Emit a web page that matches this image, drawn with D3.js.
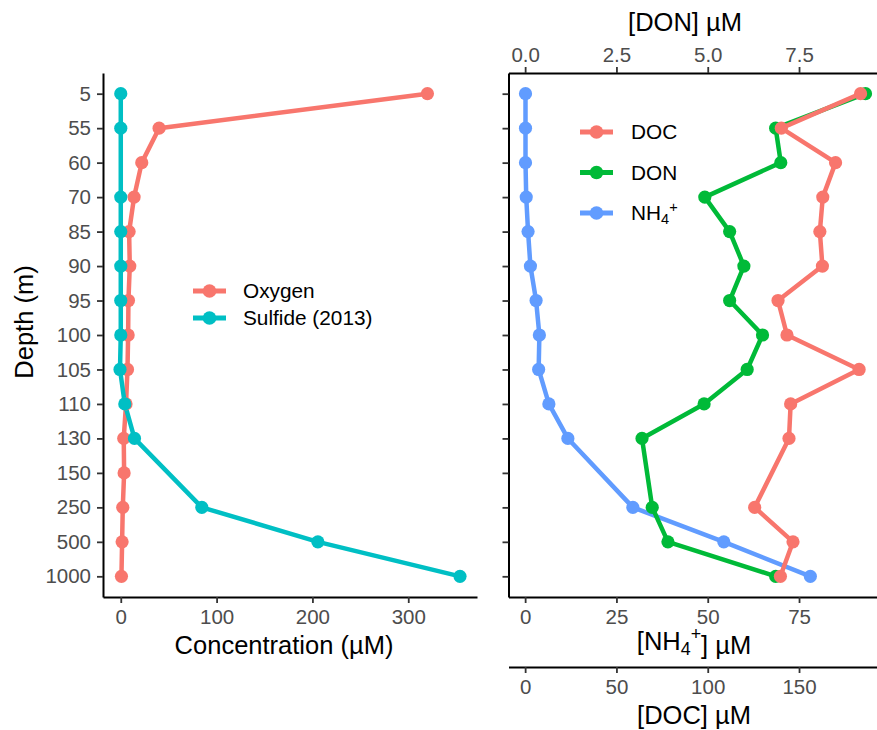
<!DOCTYPE html>
<html><head><meta charset="utf-8">
<script src="https://cdn.jsdelivr.net/npm/d3@7"></script>
<style>
body{margin:0;background:#fff}
svg{display:block}
text{font-family:"Liberation Sans",Arial,Helvetica,sans-serif}
</style>
</head><body>
<svg id="c" width="877" height="730"></svg>
<script>
// ---- data ----
const depths  = ["5","55","60","70","85","90","95","100","105","110","130","150","250","500","1000"];
const oxygen  = [320, 40.0, 21.9, 13.9, 8.7, 9.4, 8.0, 7.7, 7.0, 5.5, 3.1, 3.5, 2.1, 1.4, 0.7];
const sulfide = [0, 0, null, 0, 0, 0, 0, 0, -0.8, 4.2, 14.3, null, 84.6, 205.7, 354];
const nh4     = [0.1, 0.1, 0.1, 0.3, 0.8, 1.45, 3.0, 3.9, 3.7, 6.5, 11.7, null, 29.5, 54.4, 78.1];
const don     = [9.32, 6.86, 7.0, 4.92, 5.6, 5.99, 5.6, 6.5, 6.08, 4.9, 3.2, null, 3.48, 3.91, 6.86];
const docv    = [183.7, 140.3, 170, 163, 161.4, 162.8, 138.5, 143.4, 182.9, 145.4, 144.5, null, 125.7, 146.7, 139.8];
const concTicks = [0, 100, 200, 300];
const nh4Ticks  = [0, 25, 50, 75];
const donTicks  = [0, 2.5, 5, 7.5];
const docTicks  = [0, 50, 100, 150];
const leftSeries  = ["Oxygen", "Sulfide (2013)"];
const rightSeries = ["DOC", "DON", "NH4+"];

const svg = d3.select("#c");
const C = {red:"#F8766D", cyan:"#00BFC4", green:"#00BA38", blue:"#619CFF"};
const TICK_COL = "#4D4D4D", TICKLINE = "#333333";

function expand(ext){ const s = ext[1]-ext[0]; return [ext[0]-0.05*s, ext[1]+0.05*s]; }

const y = d3.scalePoint().domain(depths).range([73, 597]).padding(0.6);

// ---- left panel ----
const L = {x0:103, x1:477};
const leftVals = oxygen.concat(sulfide).filter(v => v!=null);
const xl = d3.scaleLinear().domain(expand(d3.extent(leftVals))).range([L.x0, L.x1]);

function styleAxis(g){
  g.attr("font-family", null).attr("font-size", null);
  g.select(".domain").attr("stroke", "#000").attr("stroke-width", 2);
  g.selectAll(".tick line").attr("stroke", TICKLINE).attr("stroke-width", 1.8);
  g.selectAll(".tick text").attr("fill", TICK_COL).style("font-size", "20.5px");
}

// y axis left
svg.append("g").attr("transform", `translate(${L.x0},0)`)
  .call(d3.axisLeft(y).tickSize(6).tickSizeOuter(0).tickPadding(6))
  .call(styleAxis);
// x axis left
svg.append("g").attr("transform", `translate(0,597)`)
  .call(d3.axisBottom(xl).tickValues(concTicks).tickSize(6).tickSizeOuter(0).tickPadding(6))
  .call(styleAxis);

svg.append("text").attr("x", 284).attr("y", 654).attr("text-anchor", "middle")
  .style("font-size", "25.5px").attr("fill", "#000").text("Concentration (µM)");
svg.append("text").attr("transform", "translate(33,322) rotate(-90)").attr("text-anchor", "middle")
  .style("font-size", "25.5px").attr("fill", "#000").text("Depth (m)");

function drawSeries(vals, xs, color){
  const pts = depths.map((d,i) => ({d, v: vals[i]})).filter(p => p.v != null);
  const line = d3.line().x(p => xs(p.v)).y(p => y(p.d));
  svg.append("path").datum(pts).attr("d", line).attr("fill", "none")
    .attr("stroke", color).attr("stroke-width", 4.5).attr("stroke-linejoin", "round").attr("stroke-linecap", "butt");
  return pts;
}
function drawPoints(pts, xs, color){
  svg.append("g").selectAll("circle").data(pts).join("circle")
    .attr("cx", p => xs(p.v)).attr("cy", p => y(p.d)).attr("r", 6.6).attr("fill", color);
}

const oxPts = drawSeries(oxygen, xl, C.red);
const suPts = drawSeries(sulfide, xl, C.cyan);
drawPoints(oxPts, xl, C.red);
drawPoints(suPts, xl, C.cyan);

// left legend
function legendKey(x, yy, color){
  svg.append("line").attr("x1", x).attr("x2", x+33).attr("y1", yy).attr("y2", yy)
    .attr("stroke", color).attr("stroke-width", 5);
  svg.append("circle").attr("cx", x+16.5).attr("cy", yy).attr("r", 6.8).attr("fill", color);
}
[[leftSeries[0], C.red, 291], [leftSeries[1], C.cyan, 318]].forEach(([t, col, yy]) => {
  legendKey(193, yy, col);
  svg.append("text").attr("x", 243).attr("y", yy).attr("dy", "0.36em")
    .style("font-size", "20.8px").attr("fill", "#000").text(t);
});

// ---- right panel ----
const R = {x0:508.5, x1:882.5};
const rightVals = nh4.concat(don.map(v => v==null?null:v*10), docv.map(v => v==null?null:v/2)).filter(v => v!=null);
const xr = d3.scaleLinear().domain(expand(d3.extent(rightVals))).range([R.x0, R.x1]);
const xDon = d3.scaleLinear().domain(xr.domain().map(v => v/10)).range(xr.range());
const xDoc = d3.scaleLinear().domain(xr.domain().map(v => v*2)).range(xr.range());

svg.append("g").attr("transform", `translate(${R.x0},0)`)
  .call(d3.axisLeft(y).tickSize(6).tickSizeOuter(0).tickFormat(""))
  .call(styleAxis);
svg.append("g").attr("transform", `translate(0,73)`)
  .call(d3.axisTop(xDon).tickValues(donTicks).tickFormat(d3.format(".1f")).tickSize(6).tickSizeOuter(0).tickPadding(5))
  .call(styleAxis);
svg.append("g").attr("transform", `translate(0,597)`)
  .call(d3.axisBottom(xr).tickValues(nh4Ticks).tickSize(6).tickSizeOuter(0).tickPadding(6))
  .call(styleAxis);
svg.append("g").attr("transform", `translate(0,667)`)
  .call(d3.axisBottom(xDoc).tickValues(docTicks).tickSize(6).tickSizeOuter(0).tickPadding(6))
  .call(styleAxis);

svg.append("text").attr("x", 685).attr("y", 31).attr("text-anchor", "middle")
  .style("font-size", "25.5px").attr("fill", "#000").text("[DON] µM");
svg.append("text").attr("x", 694).attr("y", 724).attr("text-anchor", "middle")
  .style("font-size", "25.5px").attr("fill", "#000").text("[DOC] µM");
function nh4Label(sel, small){
  sel.append("tspan").text(small ? "NH" : "[NH");
  sel.append("tspan").attr("dy", "0.3em").style("font-size", "70%").text("4");
  sel.append("tspan").attr("dy", "-0.85em").style("font-size", "70%").text("+");
  if(!small) sel.append("tspan").attr("dy", "0.55em").text("] µM");
}
svg.append("text").attr("x", 694).attr("y", 650).attr("text-anchor", "middle")
  .style("font-size", "25.5px").attr("fill", "#000").call(s => nh4Label(s, false));

const nhPts  = drawSeries(nh4, xr, C.blue);
const donPts = drawSeries(don, xDon, C.green);
const docPts = drawSeries(docv, xDoc, C.red);
drawPoints(nhPts, xr, C.blue);
drawPoints(donPts, xDon, C.green);
drawPoints(docPts, xDoc, C.red);

// right legend
[[rightSeries[0], C.red, 132], [rightSeries[1], C.green, 172.5], [rightSeries[2], C.blue, 213]].forEach(([t, col, yy]) => {
  legendKey(580, yy, col);
  const tx = svg.append("text").attr("x", 631).attr("y", yy).attr("dy", "0.36em")
    .style("font-size", "20.8px").attr("fill", "#000");
  if (t === "NH4+") {
    tx.attr("dy", null).attr("y", yy + 7);
    nh4Label(tx, true);
  } else tx.text(t);
});
</script>
</body></html>
